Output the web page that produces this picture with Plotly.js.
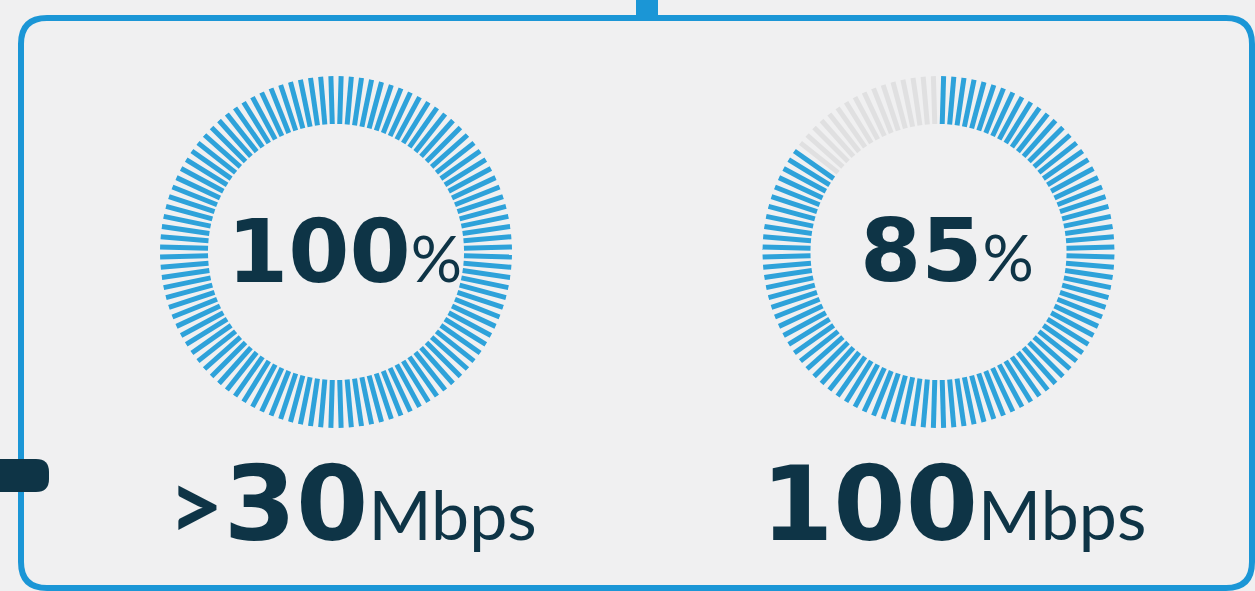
<!DOCTYPE html>
<html>
<head>
<meta charset="utf-8">
<script src="https://cdn.plot.ly/plotly-3.0.1.min.js"></script>
<style>
  html, body { margin: 0; padding: 0; background: #f0f0f1; }
  #chart { width: 1255px; height: 591px; }
</style>
</head>
<body>
<div id="chart"></div>
<script>
// ---- data ----
const coveragePct = [100, 85];          // percentage shown in each ring
const pctLabels = ['100', '85'];        // centre labels
const speedLabels = ['&gt;30', '100'];  // speed tier labels
const unitLabel = 'Mbps';
const tickCount = 108;                  // number of radial ticks per ring

// ---- layout constants ----
const W = 1255, H = 591;
const BLUE = '#2ea2da', GREY = '#e0e0e1', NAVY = '#0e3446', BORDER = '#1b96d6';
const ringCentres = [[336, 252], [938.5, 252]];
const R = 176.5, rIn = 128, rOut = 176;

const px = x => x / W;
const py = y => 1 - y / H;
const P = (x, y) => px(x) + ',' + py(y);

const traces = [];
const layout = {
  width: W, height: H,
  margin: {l: 0, r: 0, t: 0, b: 0},
  paper_bgcolor: '#f0f0f1',
  plot_bgcolor: '#f0f0f1',
  showlegend: false,
  annotations: [],
  shapes: []
};

coveragePct.forEach((pct, k) => {
  const on = Math.round(pct / 100 * tickCount);
  const sets = [{r: [], t: [], c: BLUE}, {r: [], t: [], c: GREY}];
  for (let i = 0; i < tickCount; i++) {
    const s = i < on ? sets[0] : sets[1];
    const th = (i + 0.5) * 360 / tickCount;
    s.r.push(rIn, rOut, null);
    s.t.push(th, th, null);
  }
  const pname = k === 0 ? 'polar' : 'polar' + (k + 1);
  sets.forEach(s => {
    if (!s.r.length) return;
    traces.push({
      type: 'scatterpolar', mode: 'lines', subplot: pname,
      r: s.r, theta: s.t, connectgaps: false,
      line: {color: s.c, width: 5}, hoverinfo: 'skip'
    });
  });
  const [cx, cy] = ringCentres[k];
  layout[pname] = {
    domain: {x: [px(cx - R), px(cx + R)], y: [py(cy + R), py(cy - R)]},
    bgcolor: 'rgba(0,0,0,0)',
    radialaxis: {visible: false, range: [0, R]},
    angularaxis: {visible: false, rotation: 90, direction: 'clockwise'}
  };
});

// centre percentage labels
const pctPos = [[344.5, 251], [947, 250]];
pctLabels.forEach((t, k) => {
  layout.annotations.push({
    xref: 'paper', yref: 'paper', x: px(pctPos[k][0]), y: py(pctPos[k][1]),
    xanchor: 'center', yanchor: 'middle', showarrow: false,
    text: '<b>' + t + '</b><span style="font-family:Lato;font-size:64px;font-weight:normal">%</span>',
    font: {family: 'DejaVu Sans', size: 88, color: NAVY}
  });
});

// speed labels
const spdPos = [[352, 504], [953.5, 504]];
speedLabels.forEach((t, k) => {
  let txt = t;
  if (t.startsWith('&gt;')) {
    txt = '<span style="font-family:Lato;font-size:96px;font-weight:bold">&gt;</span>' + t.slice(4);
  }
  layout.annotations.push({
    xref: 'paper', yref: 'paper', x: px(spdPos[k][0]), y: py(spdPos[k][1]),
    xanchor: 'center', yanchor: 'middle', showarrow: false,
    text: '<b>' + txt + '</b><span style="font-family:Lato;font-size:68px;font-weight:normal">' + unitLabel + '</span>',
    font: {family: 'DejaVu Sans', size: 104, color: NAVY}
  });
});

// frame
const x0 = 21, x1 = 1252, y0 = 18, y1 = 588, rc = 26;
layout.shapes.push({
  type: 'path', xref: 'paper', yref: 'paper', layer: 'below',
  path: 'M' + P(x0 + rc, y0) + ' L' + P(x1 - rc, y0) + ' Q' + P(x1, y0) + ' ' + P(x1, y0 + rc) +
        ' L' + P(x1, y1 - rc) + ' Q' + P(x1, y1) + ' ' + P(x1 - rc, y1) +
        ' L' + P(x0 + rc, y1) + ' Q' + P(x0, y1) + ' ' + P(x0, y1 - rc) +
        ' L' + P(x0, y0 + rc) + ' Q' + P(x0, y0) + ' ' + P(x0 + rc, y0) + ' Z',
  line: {color: BORDER, width: 6}, fillcolor: 'rgba(0,0,0,0)'
});
// connector at top
layout.shapes.push({
  type: 'rect', xref: 'paper', yref: 'paper', layer: 'below',
  x0: px(636), x1: px(658), y0: py(18), y1: py(-5),
  line: {width: 0}, fillcolor: BORDER
});
// dark tab on left
const ty0 = 459, ty1 = 492, tx1 = 49, tr = 13;
layout.shapes.push({
  type: 'path', xref: 'paper', yref: 'paper', layer: 'below',
  path: 'M' + P(-10, ty0) + ' L' + P(tx1 - tr, ty0) + ' Q' + P(tx1, ty0) + ' ' + P(tx1, ty0 + tr) +
        ' L' + P(tx1, ty1 - tr) + ' Q' + P(tx1, ty1) + ' ' + P(tx1 - tr, ty1) + ' L' + P(-10, ty1) + ' Z',
  line: {width: 0}, fillcolor: NAVY
});

Plotly.newPlot('chart', traces, layout, {displayModeBar: false, staticPlot: true});
</script>
</body>
</html>
